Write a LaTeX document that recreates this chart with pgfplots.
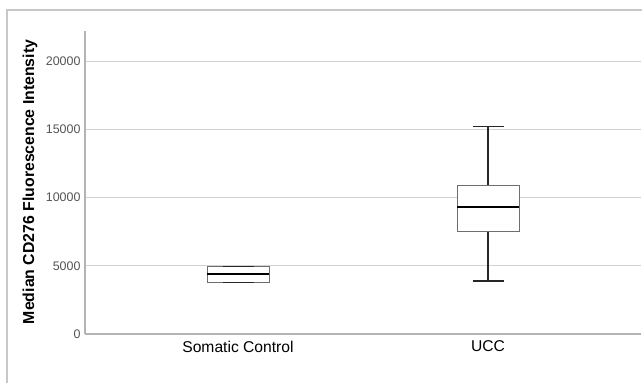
\documentclass[border=0pt]{standalone}
\usepackage{pgfplots}
\pgfplotsset{compat=1.18}
\usepackage{fontspec}
\setmainfont{Liberation Sans}
\definecolor{frame}{HTML}{C8C8C8}
\definecolor{axisc}{HTML}{B4B4B4}
\definecolor{gridc}{HTML}{D2D2D2}
\definecolor{boxc}{HTML}{6E6E6E}
\definecolor{tickc}{HTML}{555555}
\definecolor{whisk}{HTML}{262626}
\begin{document}
\begin{tikzpicture}
\useasboundingbox (0,0) rectangle (642bp,383bp);
\fill[white] (0,0) rectangle (642bp,383bp);
\draw[color=frame, line width=1.5bp] (7bp,-2bp) -- (7bp,373bp) -- (645bp,373bp);
\begin{axis}[
  at={(85bp,49bp)}, anchor=south west,
  scale only axis, width=556bp, height=303bp,
  xmin=0.388, xmax=2.612, ymin=0, ymax=22200,
  axis x line*=bottom, axis y line*=left,
  axis line style={-, axisc, line width=1.2bp},
  ytick={0,5000,10000,15000,20000},
  scaled y ticks=false,
  xtick={1,2}, xticklabels={Somatic Control, UCC},
  ymajorgrids, grid style={gridc, line width=0.9bp},
  major tick length=0pt,
  yticklabel style={font=\fontsize{12.5}{14}\selectfont, text=tickc, xshift=-1bp, /pgf/number format/1000 sep={}, /pgf/number format/assume math mode=true},
  xticklabel style={font=\fontsize{15.7}{18}\selectfont, text=black, yshift=-3.5bp},
  ylabel={Median CD276 Fluorescence Intensity},
  ylabel style={font=\fontsize{15.9}{18}\selectfont\bfseries, at={(axis description cs:-0.099,0.502)}, anchor=center},
]
% Somatic Control (position 1): min=Q1=3790, median=4370, Q3=max=4930
\addplot[draw=boxc, fill=white, line width=1bp, line join=miter] coordinates {(0.876,3790) (1.124,3790) (1.124,4930) (0.876,4930) (0.876,3790)};
\addplot[draw=whisk, line width=1.3bp] coordinates {(0.938,4930) (1.062,4930)};
\addplot[draw=whisk, line width=1.3bp] coordinates {(0.938,3790) (1.062,3790)};
\addplot[draw=black, line width=1.8bp] coordinates {(0.876,4370) (1.124,4370)};
% UCC (position 2): min=3890, Q1=7500, median=9330, Q3=10900, max=15200
\addplot[draw=whisk, line width=1.3bp] coordinates {(2,10900) (2,15200)};
\addplot[draw=whisk, line width=1.3bp] coordinates {(2,3890) (2,7500)};
\addplot[draw=whisk, line width=1.3bp] coordinates {(1.938,15200) (2.062,15200)};
\addplot[draw=whisk, line width=1.3bp] coordinates {(1.938,3890) (2.062,3890)};
\addplot[draw=boxc, fill=white, line width=1bp, line join=miter] coordinates {(1.876,7500) (2.124,7500) (2.124,10900) (1.876,10900) (1.876,7500)};
\addplot[draw=black, line width=1.8bp] coordinates {(1.876,9330) (2.124,9330)};
\end{axis}
\end{tikzpicture}
\end{document}
